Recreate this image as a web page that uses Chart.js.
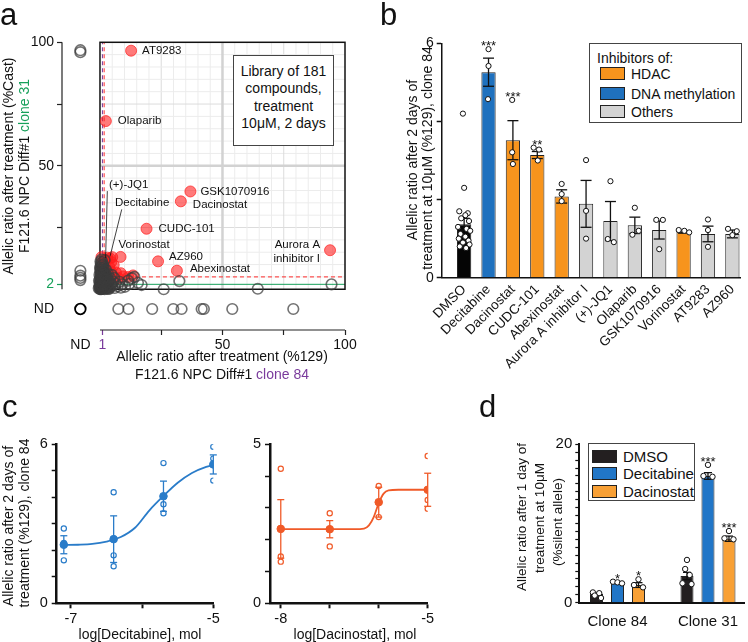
<!DOCTYPE html>
<html>
<head>
<meta charset="utf-8">
<script src="https://cdn.jsdelivr.net/npm/chart.js@4.4.1/dist/chart.umd.min.js"></script>
<style>
  body { margin:0; width:748px; height:642px; position:relative; overflow:hidden; background:#fff;
         font-family:'Liberation Sans', Arial, sans-serif; color:#111; }
  canvas { position:absolute; }
  .txt { position:absolute; white-space:nowrap; font-size:14px; line-height:1; transform:translate(-50%,-50%); }
  .rot { transform:translate(-50%,-50%) rotate(-90deg); }
  .letter { position:absolute; font-size:31px; line-height:1; }
  .box { position:absolute; border:1px solid #444; background:#fff; box-sizing:border-box; }
  .row { position:absolute; white-space:nowrap; line-height:1; }
  .sw { position:absolute; border:1px solid #222; box-sizing:border-box; }
</style>
</head>
<body>
<canvas id="ca" width="380" height="400" style="left:0;top:0"></canvas>
<canvas id="cb" width="368" height="400" style="left:380px;top:0"></canvas>
<canvas id="cc1" width="230" height="222" style="left:0;top:420px"></canvas>
<canvas id="cc2" width="215" height="222" style="left:235px;top:420px"></canvas>
<canvas id="cd" width="268" height="222" style="left:480px;top:420px"></canvas>

<div class="letter" style="left:0;top:-1px">a</div>
<div class="letter" style="left:380px;top:-1px">b</div>
<div class="letter" style="left:2px;top:391px">c</div>
<div class="letter" style="left:479px;top:391px">d</div>

<!-- panel a texts -->
<div class="txt rot" style="left:8px;top:166px">Allelic ratio after treatment (%Cast)</div>
<div class="txt rot" style="left:24px;top:166px">F121.6 NPC Diff#1 <span style="color:#16a05a">clone 31</span></div>
<div class="txt" style="left:222px;top:356px">Allelic ratio after treatment (%129)</div>
<div class="txt" style="left:222px;top:374px">F121.6 NPC Diff#1 <span style="color:#7a3b9c">clone 84</span></div>
<div class="box" style="left:233px;top:55px;width:101px;height:91px;text-align:center;font-size:14px;line-height:17.4px;padding-top:7px">Library of 181<br>compounds,<br>treatment<br>10μM, 2 days</div>

<!-- panel b texts -->
<div class="txt rot" style="left:412px;top:160px">Allelic ratio after 2 days of</div>
<div class="txt rot" style="left:427px;top:158px">treatment at 10μM (%129), clone 84</div>
<div class="box" style="left:589px;top:43px;width:153px;height:80px;font-size:14px">
  <div class="row" style="left:7px;top:7px">Inhibitors of:</div>
  <div class="sw" style="left:10px;top:23px;width:25px;height:13px;background:#f7941d"></div>
  <div class="row" style="left:41px;top:23px">HDAC</div>
  <div class="sw" style="left:10px;top:43px;width:25px;height:13px;background:#1f71be"></div>
  <div class="row" style="left:41px;top:43px">DNA methylation</div>
  <div class="sw" style="left:10px;top:61px;width:25px;height:13px;background:#d3d3d3"></div>
  <div class="row" style="left:41px;top:61px">Others</div>
</div>

<!-- panel c texts -->
<div class="txt rot" style="left:8px;top:526px">Allelic ratio after 2 days of</div>
<div class="txt rot" style="left:24px;top:523px">treatment (%129), clone 84</div>
<div class="txt" style="left:140px;top:634px">log[Decitabine], mol</div>
<div class="txt" style="left:355px;top:634px">log[Dacinostat], mol</div>

<!-- panel d texts -->
<div class="txt rot" style="left:522px;top:517px;font-size:13.5px">Allelic ratio after 1 day of</div>
<div class="txt rot" style="left:540px;top:518px;font-size:13.5px">treatment at 10μM</div>
<div class="txt rot" style="left:558px;top:522px;font-size:13.5px">(%silent allele)</div>
<div class="box" style="left:588px;top:443px;width:107px;height:58px;font-size:15px">
  <div class="sw" style="left:3px;top:6px;width:25px;height:13px;background:#231f20"></div>
  <div class="row" style="left:34px;top:5px">DMSO</div>
  <div class="sw" style="left:3px;top:23px;width:25px;height:13px;background:#2176c7"></div>
  <div class="row" style="left:34px;top:22px">Decitabine</div>
  <div class="sw" style="left:3px;top:41px;width:25px;height:13px;background:#f8a035"></div>
  <div class="row" style="left:34px;top:40px">Dacinostat</div>
</div>

<script>
// ---------- panel a : screen of 181 compounds ----------
const ND = -8;                       // position used for "not determined"
const aThrX = 1, aThrY = 2;          // purple / green thresholds
const aRedX = 1.7, aRedY = 5;        // red dashed thresholds
const aOthers = [
  [0.3,0.2],[0.8,0.5],[1.2,0.3],[0.5,1.0],[1.5,1.2],[2.0,0.6],[0.2,1.8],[1.0,2.2],[2.5,1.5],[3.0,0.4],
  [0.7,2.8],[1.8,2.6],[2.8,2.2],[3.5,1.0],[0.4,3.4],[1.3,3.6],[2.2,3.2],[4.0,0.8],[0.9,0.1],[1.7,0.9],
  [2.4,0.2],[0.1,0.7],[3.2,2.9],[4.5,2.0],[0.6,4.2],[1.6,4.5],[2.6,4.0],[3.6,3.5],[5.0,1.4],[0.2,5.2],
  [1.1,5.6],[2.0,5.0],[3.0,4.8],[4.2,4.4],[5.5,3.0],[6.0,0.5],[6.5,2.2],[7.2,1.2],[0.5,6.0],[1.4,6.5],
  [2.3,6.2],[0.3,7.2],[1.0,7.8],[0.2,8.6],[0.8,9.5],[0.4,10.5],[4.8,5.8],[5.8,4.6],[8.0,3.0],[9.0,2.0],
  [10.2,1.0],[11.5,3.5],[13.0,4.5],[14.0,5.0],[17.0,1.7],[26.0,0.0],[32.4,3.3],[64.4,0.2],[94.5,2.0],[8.5,0.6],
  [12.0,2.2],[15.5,2.6],[0.0,0.0],[0.5,0.0],[1.9,0.0],[3.8,0.2],[0.0,2.5],[0.0,4.0],[0.1,3.0],[0.2,11.2],
  [0.6,12.0],[1.2,10.0],[0.1,9.0],[-0.3,1.2],[-0.2,5.8],[2.7,0.9],
  [0.4,0.6],[1.1,1.4],[1.9,1.9],[0.6,2.4],[1.4,3.0],[2.1,4.1],[0.9,4.8],[0.3,6.6],[1.7,7.0],[0.5,8.2],
  [1.3,8.8],[2.6,5.5],[3.3,6.3],[0.0,1.5],[0.8,3.1],[1.5,1.8],[2.3,2.5],[3.1,1.8],[0.2,2.2],[1.0,0.8],
  [0.6,5.3],[1.8,5.9],[0.9,6.9],[0.1,7.8],[2.9,3.7],[4.1,2.7],[3.4,0.1],[0.7,1.6],[1.6,2.1],[0.3,4.6],
  [2.0,3.7],[1.2,4.3],[0.5,9.8],[1.5,9.0],[2.4,8.0],[0.2,0.1],[-0.5,0.4],[-0.4,3.4],[0.9,11.0],[1.9,11.8]
];
const aNDxY = [96.0, 96.8, 7.5, 5.5, 4.6, 3.7];                        // y of compounds ND on x
const aNDyX = [7.5, 11.6, 21.3, 29.9, 33.3, 41.5, 42.4, 54.0, 78.9];   // x of compounds ND on y
const aRed = [
  [1.5,11.5],[3.0,12.8],[4.6,11.0],[2.0,9.5],[3.8,9.0],[5.6,9.8],[1.2,7.5],[2.8,7.0],[4.5,7.2],[6.5,6.8],
  [2.0,5.5],[3.5,5.2],[5.5,5.0],[7.5,4.5],[9.5,5.2],[11.6,5.0],[13.5,5.6],[8.5,6.5],[1.0,4.0],[3.0,3.5],
  [0.6,13.0],[5.0,13.0]
];
const aHitNames = ['AT9283','Olaparib','GSK1070916','Dacinostat','CUDC-101','Vorinostat','AZ960','Abexinostat','Aurora A inhibitor I','(+)-JQ1','Decitabine'];
const aHitX = [12.7, 2.4, 36.9, 33.0, 19.0, 8.4, 23.7, 31.4, 93.9, 2.3, 4.1];
const aHitY = [96.6, 68.1, 39.6, 35.6, 24.5, 13.1, 11.3, 7.5, 15.8, 11.8, 12.5];

// ---------- panel b ----------
const bNames = ['DMSO','Decitabine','Dacinostat','CUDC-101','Abexinostat','Aurora A inhibitor I','(+)-JQ1','Olaparib','GSK1070916','Vorinostat','AT9283','AZ960'];
const bKind  = ['dmso','dna','hdac','hdac','hdac','other','other','other','other','hdac','other','other'];
const bMeans = [1.37, 5.26, 3.52, 3.14, 2.08, 1.89, 1.45, 1.34, 1.22, 1.17, 1.12, 1.12];
const bSem   = [0.15, 0.36, 0.50, 0.09, 0.17, 0.60, 0.50, 0.21, 0.23, 0.03, 0.20, 0.10];
const bStars = ['', '***', '***', '**', '', '', '', '', '', '', '', ''];
const bReps = [
  [4.2,2.3,1.7,1.65,1.6,1.52,1.45,1.3,1.25,1.2,1.12,1.05,1.0,0.95,0.9,0.85,0.8,0.76],
  [5.85,5.42,4.57], [4.55,3.21,2.91], [3.33,3.28,3.0], [2.4,2.14,1.96], [3.01,1.71,1.0],
  [2.47,0.99,0.91], [1.79,1.2,1.1], [1.48,1.48,0.73], [1.22,1.2,1.16], [1.49,1.22,0.79], [1.25,1.19,1.09]
];
const bJitter = [
  [-0.05,0.0,-0.2,0.15,0.05,-0.12,0.2,-0.25,0.1,0.25,-0.15,0.05,-0.22,0.18,-0.05,0.22,-0.18,0.08],
  [0,0,-0.02], [-0.03,-0.03,0], [-0.15,0.07,0.02], [0,0,0], [0,0,0],
  [0,-0.11,0.14], [0,0.16,-0.1], [-0.12,0.15,0], [-0.2,0.03,0.23], [0,0,0], [-0.18,0.18,0]
];

// ---------- panel c ----------
const cDecX = [-7.1, -6.4, -5.7, -5.0];
const cDecMean = [2.21, 2.42, 4.04, 5.24];
const cDecSem = [0.34, 0.88, 0.57, 0.36];
const cDecReps = [[2.82,2.28,1.62],[4.19,1.81,1.40],[5.29,3.74,3.40],[5.91,5.46,4.63]];
const cDecFitX = [-7.1,-6.9,-6.7,-6.5,-6.3,-6.1,-5.9,-5.7,-5.5,-5.3,-5.1,-5.0];
const cDecFitY = [2.20,2.21,2.24,2.33,2.50,2.85,3.50,4.05,4.55,4.92,5.15,5.22];
const cDacX = [-8, -7, -6, -5];
const cDacMean = [2.34, 2.33, 3.18, 3.57];
const cDacSem = [0.92, 0.27, 0.47, 0.52];
const cDacReps = [[4.23,1.47,1.31],[2.83,2.34,1.79],[3.69,3.18,2.71],[4.63,3.25,2.97]];
const cDacFitX = [-8,-7,-6.5,-6.3,-6.2,-6.1,-6.0,-5.9,-5.8,-5.6,-5.0];
const cDacFitY = [2.33,2.33,2.33,2.35,2.45,2.72,3.15,3.45,3.55,3.57,3.57];

// ---------- panel d ----------
const dGroups = ['Clone 84', 'Clone 31'];
const dSeries = ['DMSO', 'Decitabine', 'Dacinostat'];
const dDmso = [1.09, 3.37], dDecitabine = [2.53, 16.0], dDacinostat = [2.23, 8.08];
const dDmsoSem = [0.12, 0.46], dDecitabineSem = [0.10, 0.42], dDacinostatSem = [0.30, 0.33];
const dDmsoReps = [[1.3,1.2,0.9,0.6],[5.4,4.25,3.5,2.45,2.35]];
const dDecitabineReps = [[2.65,2.57,2.44],[17.4,16.0,15.9]];
const dDacinostatReps = [[2.95,2.23,1.94],[9.05,8.13,8.0]];
const dStars = [['','*','*'],['','***','***']];
const dJitter = [[[-0.04,0.03,-0.02,0.05],[0.0,-0.02,0.03,-0.05,0.05]],
                 [[-0.05,0.0,0.05],[0.0,-0.05,0.05]],
                 [[0.0,-0.05,0.05],[0.0,-0.05,0.05]]];

// ---------- common ----------
const FONT = "'Liberation Sans', Arial, sans-serif";
Chart.defaults.font.family = FONT;
Chart.defaults.color = '#111';
Chart.defaults.animation = false;
Chart.defaults.plugins.legend.display = false;
Chart.defaults.plugins.tooltip.enabled = false;
Chart.defaults.layout.autoPadding = false;

const PURPLE = '#7a3b9c', GREEN = '#16a05a';

function line(ctx, x1, y1, x2, y2) {
  ctx.beginPath(); ctx.moveTo(x1, y1); ctx.lineTo(x2, y2); ctx.stroke();
}
function fixedTicks(vals) { return s => { s.ticks = vals.map(v => ({ value: v })); }; }

// ---------- panel a chart ----------
const aLabelPos = [[11,0,'left'],[12,0,'left'],[10,0,'left'],[12,3,'left'],[12,0,'left'],[-2,-12,'left'],
                   [11,-5,'left'],[13,-2,'left'],[-10,-5,'right'],[3.4,-75,'left'],[5,-56,'left']];
const aPlugin = {
  id: 'aPlot',
  beforeDatasetsDraw(chart) {
    const { ctx, chartArea, scales: { x, y } } = chart;
    const X = v => x.getPixelForValue(v), Y = v => y.getPixelForValue(v);
    ctx.save();
    for (let v = 5; v < 100; v += 5) {
      if (v === 50) continue;
      ctx.strokeStyle = v % 25 === 0 ? '#dcdcdc' : '#ececec';
      ctx.lineWidth = 1;
      line(ctx, X(v), Y(0), X(v), Y(100));
      line(ctx, X(0), Y(v), X(100), Y(v));
    }
    ctx.strokeStyle = '#d2d2d2'; ctx.lineWidth = 2.5;
    line(ctx, X(50), Y(0), X(50), Y(100));
    line(ctx, X(0), Y(50), X(100), Y(50));
    ctx.lineWidth = 1;
    ctx.strokeStyle = GREEN; line(ctx, X(0), Y(aThrY), X(100), Y(aThrY));
    ctx.setLineDash([4, 3]);
    ctx.strokeStyle = '#ff2a2a';
    line(ctx, X(0), Y(aRedY), X(100), Y(aRedY));
    line(ctx, X(aRedX), Y(0), X(aRedX), Y(100));
    ctx.strokeStyle = PURPLE; line(ctx, X(aThrX), Y(0), X(aThrX), Y(100));
    ctx.setLineDash([]);
    ctx.strokeStyle = '#111'; ctx.lineWidth = 1.5;
    ctx.strokeRect(X(0), Y(100), X(100) - X(0), Y(0) - Y(100));
    ctx.strokeStyle = '#222'; ctx.lineWidth = 1.2;
    line(ctx, chartArea.left, Y(0), chartArea.left, Y(100));
    line(ctx, X(0), chartArea.bottom, X(100), chartArea.bottom);
    ctx.restore();
  },
  afterDatasetsDraw(chart) {
    const { ctx, scales: { x, y } } = chart;
    ctx.save();
    ctx.font = '11.5px ' + FONT;
    ctx.fillStyle = '#111'; ctx.strokeStyle = '#111'; ctx.lineWidth = 0.8;
    ctx.textBaseline = 'middle';
    aHitNames.forEach((n, i) => {
      const px = x.getPixelForValue(aHitX[i]), py = y.getPixelForValue(aHitY[i]);
      const [dx, dy, al] = aLabelPos[i];
      ctx.textAlign = al;
      if (n === 'Aurora A inhibitor I') {
        ctx.fillText('Aurora A', px + dx, py + dy);
        ctx.fillText('inhibitor I', px + dx, py + dy + 14);
      } else {
        ctx.fillText(n, px + dx, py + dy);
      }
      if (n === '(+)-JQ1') line(ctx, px + 1.7, py - 69, px, py - 2);
      if (n === 'Decitabine') line(ctx, px + 11.7, py - 49, px, py - 2);
    });
    ctx.restore();
  }
};

const aGreyData = aOthers.map(p => ({ x: p[0], y: p[1] }))
  .concat(aNDxY.map(v => ({ x: ND, y: v })))
  .concat(aNDyX.map(v => ({ x: v, y: ND })));
const aRedData = aRed.map(p => ({ x: p[0], y: p[1] }))
  .concat(aHitX.map((v, i) => ({ x: v, y: aHitY[i] })));

new Chart('ca', {
  type: 'scatter',
  data: { datasets: [
    { data: aGreyData, pointRadius: 5.3, pointBorderWidth: 1.6, pointBackgroundColor: 'rgba(0,0,0,0)',
      pointBorderColor: 'rgba(60,60,60,0.72)', clip: false },
    { data: [{ x: ND, y: ND }], pointRadius: 5.3, pointBorderWidth: 1.8, pointBackgroundColor: 'rgba(0,0,0,0)',
      pointBorderColor: '#000', clip: false },
    { data: aRedData, pointRadius: 5.5, pointBorderWidth: 1, pointBackgroundColor: 'rgba(255,25,25,0.58)',
      pointBorderColor: 'rgba(255,30,30,0.7)', clip: false }
  ] },
  options: {
    responsive: false,
    layout: { padding: { top: 42.3, right: 35, left: 0, bottom: 0 } },
    scales: {
      x: {
        type: 'linear', min: -15.5, max: 100, offset: false,
        afterBuildTicks: fixedTicks([ND, 1, 25, 50, 75, 100]),
        afterFit: s => { s.height = 70; },
        ticks: { autoSkip: false, maxRotation: 0, font: { size: 14 }, padding: 2,
                 callback: v => ({ '-8': 'ND', '1': '1', '50': '50', '100': '100' })[v] || '',
                 color: c => c.tick.value === 1 ? PURPLE : '#111' },
        grid: { drawOnChartArea: false, tickLength: 5, tickWidth: 1.2,
                tickColor: c => c.tick.value === ND ? 'rgba(0,0,0,0)' : (c.tick.value === 1 ? PURPLE : '#222') },
        border: { display: false }
      },
      y: {
        type: 'linear', min: -16.5, max: 100,
        afterBuildTicks: fixedTicks([ND, 2, 25, 50, 75, 100]),
        afterFit: s => { s.width = 62; },
        ticks: { autoSkip: false, font: { size: 14 }, padding: 3,
                 callback: v => ({ '-8': 'ND', '2': '2', '50': '50', '100': '100' })[v] || '',
                 color: c => c.tick.value === 2 ? GREEN : '#111' },
        grid: { drawOnChartArea: false, tickLength: 5, tickWidth: 1.2,
                tickColor: c => c.tick.value === ND ? 'rgba(0,0,0,0)' : (c.tick.value === 2 ? GREEN : '#222') },
        border: { display: false }
      }
    }
  },
  plugins: [aPlugin]
});

// ---------- panel b chart ----------
const bColors = { dmso: '#050505', dna: '#1f71be', hdac: '#f7941d', other: '#d3d3d3' };
const bPointData = [];
bReps.forEach((arr, i) => arr.forEach((v, k) => bPointData.push({ x: i + bJitter[i][k], y: v })));

const bPlugin = {
  id: 'bErr',
  afterDatasetDraw(chart, args) {
    if (args.index !== 0) return;
    const { ctx, scales: { x, y } } = chart;
    ctx.save(); ctx.strokeStyle = '#111'; ctx.lineWidth = 1.3;
    bMeans.forEach((m, i) => {
      const px = x.getPixelForValue(i);
      const t = y.getPixelForValue(m + bSem[i]), b = y.getPixelForValue(m - bSem[i]);
      line(ctx, px, t, px, b); line(ctx, px - 5.5, t, px + 5.5, t); line(ctx, px - 5.5, b, px + 5.5, b);
    });
    ctx.restore();
  },
  afterDatasetsDraw(chart) {
    const { ctx, scales: { x, y } } = chart;
    ctx.save(); ctx.fillStyle = '#111'; ctx.font = '13px ' + FONT;
    ctx.textAlign = 'center'; ctx.textBaseline = 'alphabetic';
    bStars.forEach((s, i) => {
      if (!s) return;
      const top = Math.max(...bReps[i], bMeans[i] + bSem[i]);
      ctx.fillText(s, x.getPixelForValue(i), y.getPixelForValue(top) + 1);
    });
    ctx.restore();
  }
};

new Chart('cb', {
  type: 'bar',
  data: { datasets: [
    { type: 'bar', data: bMeans.map((v, i) => ({ x: i, y: v })), backgroundColor: bKind.map(k => bColors[k]),
      borderColor: '#222', borderWidth: 1, categoryPercentage: 1, barPercentage: 0.585, order: 2 },
    { type: 'line', showLine: false, data: bPointData, pointRadius: 2.6, pointBackgroundColor: '#fff',
      pointBorderColor: '#111', pointBorderWidth: 1, order: 1 }
  ] },
  options: {
    responsive: false,
    layout: { padding: { top: 43.3, right: 6, left: 0, bottom: 0 } },
    scales: {
      x: {
        type: 'linear', min: -0.92, max: 11.35, offset: false,
        afterBuildTicks: fixedTicks(bNames.map((_, i) => i)),
        afterFit: s => { s.height = 122.3; },
        ticks: { autoSkip: false, minRotation: 45, maxRotation: 45, font: { size: 13.5 }, padding: 4,
                 callback: v => bNames[v] },
        grid: { drawOnChartArea: false, drawTicks: false, offset: false },
        border: { color: '#111', width: 1.5 }
      },
      y: {
        min: 0, max: 6,
        afterBuildTicks: fixedTicks([0, 2, 4, 6]),
        afterFit: s => { s.width = 61.7; },
        ticks: { font: { size: 14 }, padding: 3, callback: v => (v === 0 || v === 6) ? String(v) : '' },
        grid: { drawOnChartArea: false, tickLength: 5, tickWidth: 1.5, tickColor: '#111' },
        border: { color: '#111', width: 1.5 }
      }
    }
  },
  plugins: [bPlugin]
});

// ---------- panel c charts ----------
function doseChart(id, o) {
  const reps = [];
  o.reps.forEach((arr, i) => arr.forEach(v => reps.push({ x: o.xs[i], y: v })));
  return new Chart(id, {
    type: 'line',
    data: { datasets: [
      { data: o.fitX.map((v, i) => ({ x: v, y: o.fitY[i] })), borderColor: o.color, borderWidth: 1.8,
        pointRadius: 0, cubicInterpolationMode: 'monotone', order: 3 },
      { data: reps, showLine: false, pointRadius: 2.6, pointBackgroundColor: '#fff',
        pointBorderColor: o.color, pointBorderWidth: 1.2, order: 2 },
      { data: o.mean.map((v, i) => ({ x: o.xs[i], y: v })), showLine: false, pointRadius: 3.8,
        pointBackgroundColor: o.color, pointBorderColor: o.color, order: 1 }
    ] },
    options: {
      responsive: false,
      layout: { padding: { top: 24.3, right: o.padRight, left: 0, bottom: 0 } },
      scales: {
        x: {
          type: 'linear', min: o.xmin, max: -5,
          afterBuildTicks: fixedTicks(o.xticks),
          afterFit: s => { s.height = 38.7; },
          ticks: { autoSkip: false, maxRotation: 0, font: { size: 14.5 }, padding: 2,
                   callback: v => o.xlabels.includes(v) ? String(v) : '' },
          grid: { drawOnChartArea: false, tickLength: 5, tickWidth: 2, tickColor: '#111' },
          border: { color: '#111', width: 2.5 }
        },
        y: {
          type: 'linear', min: 0, max: o.ymax,
          afterBuildTicks: fixedTicks(Array.from({ length: o.ymax + 1 }, (_, k) => k)),
          afterFit: s => { s.width = o.yw; },
          ticks: { font: { size: 14.5 }, padding: 4,
                   callback: v => (v === 0 || v === o.ymax) ? String(v) : '' },
          grid: { drawOnChartArea: false, tickLength: 5, tickWidth: 1.5, tickColor: '#111' },
          border: { color: '#111', width: 2.5 }
        }
      }
    },
    plugins: [{
      id: 'cErr',
      afterDatasetsDraw(chart) {
        const { ctx, scales: { x, y } } = chart;
        ctx.save(); ctx.strokeStyle = o.color; ctx.lineWidth = 1.3;
        o.mean.forEach((m, i) => {
          const px = x.getPixelForValue(o.xs[i]);
          const t = y.getPixelForValue(m + o.sem[i]), b = y.getPixelForValue(m - o.sem[i]);
          line(ctx, px, t, px, b); line(ctx, px - 3.5, t, px + 3.5, t); line(ctx, px - 3.5, b, px + 3.5, b);
        });
        ctx.restore();
      }
    }]
  });
}

doseChart('cc1', { xs: cDecX, mean: cDecMean, sem: cDecSem, reps: cDecReps, fitX: cDecFitX, fitY: cDecFitY,
  color: '#2a7cc9', xmin: -7.2, ymax: 6, xticks: [-7, -6, -5], xlabels: [-7, -5], yw: 56.7, padRight: 16.7 });
doseChart('cc2', { xs: cDacX, mean: cDacMean, sem: cDacSem, reps: cDacReps, fitX: cDacFitX, fitY: cDacFitY,
  color: '#f05a28', xmin: -8.22, ymax: 5, xticks: [-8, -7, -6, -5], xlabels: [-8, -5], yw: 35, padRight: 22.3 });

// ---------- panel d chart ----------
const dColors = ['#231f20', '#2176c7', '#f8a035'];
const dMeans = [dDmso, dDecitabine, dDacinostat];
const dSems = [dDmsoSem, dDecitabineSem, dDacinostatSem];
const dReps = [dDmsoReps, dDecitabineReps, dDacinostatReps];
const dCat = 0.696, dSlot = dCat / 3;
const dPointData = [];
dReps.forEach((series, k) => series.forEach((arr, g) => arr.forEach((v, j) =>
  dPointData.push({ x: g + (k - 1) * dSlot + dJitter[k][g][j], y: v }))));

const dPlugin = {
  id: 'dErr',
  afterDatasetDraw(chart, args) {
    const k = args.index;
    if (k > 2) return;
    const { ctx, scales: { x, y } } = chart;
    ctx.save(); ctx.strokeStyle = '#111'; ctx.lineWidth = 1.3;
    dMeans[k].forEach((m, g) => {
      const px = x.getPixelForValue(g + (k - 1) * dSlot);
      const t = y.getPixelForValue(m + dSems[k][g]), b = y.getPixelForValue(m - dSems[k][g]);
      line(ctx, px, t, px, b); line(ctx, px - 4, t, px + 4, t); line(ctx, px - 4, b, px + 4, b);
    });
    ctx.restore();
  },
  afterDatasetsDraw(chart) {
    const { ctx, scales: { x, y } } = chart;
    ctx.save(); ctx.fillStyle = '#111'; ctx.font = '13px ' + FONT;
    ctx.textAlign = 'center'; ctx.textBaseline = 'alphabetic';
    dGroups.forEach((_, g) => dSeries.forEach((_, k) => {
      const s = dStars[g][k];
      if (!s) return;
      const top = Math.max(...dReps[k][g], dMeans[k][g] + dSems[k][g]);
      ctx.fillText(s, x.getPixelForValue(g + (k - 1) * dSlot), y.getPixelForValue(top) + 1);
    }));
    ctx.restore();
  }
};

new Chart('cd', {
  type: 'bar',
  data: { datasets: dSeries.map((n, k) => ({
      type: 'bar', label: n, data: dMeans[k].map((v, g) => ({ x: g, y: v })), backgroundColor: dColors[k],
      borderColor: '#222', borderWidth: 1, categoryPercentage: dCat, barPercentage: 0.62, order: 2
    })).concat([{ type: 'line', showLine: false, data: dPointData, pointRadius: 2.7, pointBackgroundColor: '#fff',
      pointBorderColor: '#111', pointBorderWidth: 1, order: 1 }]) },
  options: {
    responsive: false,
    layout: { padding: { top: 24.3, right: 0, left: 0, bottom: 0 } },
    scales: {
      x: {
        type: 'linear', min: -0.422, max: 1.404, offset: false,
        afterBuildTicks: fixedTicks([0, 1]),
        afterFit: s => { s.height = 39.3; },
        ticks: { autoSkip: false, maxRotation: 0, font: { size: 15 }, padding: 10, callback: v => dGroups[v] },
        grid: { drawOnChartArea: false, drawTicks: false, offset: false },
        border: { color: '#111', width: 2 }
      },
      y: {
        min: 0, max: 20,
        afterBuildTicks: fixedTicks(Array.from({ length: 21 }, (_, k) => k)),
        afterFit: s => { s.width = 99.3; },
        ticks: { autoSkip: false, font: { size: 15 }, padding: 3, callback: v => (v === 0 || v === 20) ? String(v) : '' },
        grid: { drawOnChartArea: false, tickLength: 4, tickWidth: 1.2, tickColor: '#111' },
        border: { color: '#111', width: 2 }
      }
    }
  },
  plugins: [dPlugin]
});
</script>
</body>
</html>
